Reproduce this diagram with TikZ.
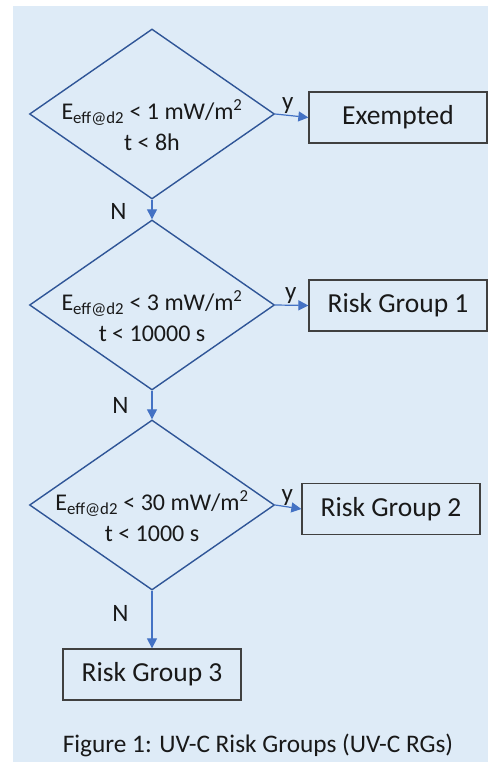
\documentclass[tikz,border=0pt]{standalone}
\usepackage{fontspec}
\setmainfont{Carlito}
\usetikzlibrary{shapes.geometric,arrows.meta}
\definecolor{PaleBlue}{RGB}{222,235,247}
\definecolor{EdgeBlue}{RGB}{47,85,151}
\definecolor{ArrowBlue}{RGB}{68,114,196}
\definecolor{BoxGray}{RGB}{64,64,64}
\definecolor{InkBlack}{RGB}{25,25,25}
\tikzset{
  decision/.style={diamond, draw=EdgeBlue, line width=1.4pt, minimum width=245pt, minimum height=170pt,
    inner sep=0pt},
  condtxt/.style={font=\fontsize{24}{31}\selectfont, text=InkBlack, align=center, inner sep=0pt, yshift=-11pt},
  outcome/.style={draw=BoxGray, line width=1.3pt, fill=PaleBlue, minimum width=178pt, minimum height=51pt,
    inner sep=0pt, text=InkBlack, font=\fontsize{27.5}{30}\selectfont},
  flow/.style={-{Triangle[length=10pt,width=10pt]}, ArrowBlue, line width=1.2pt},
  ylab/.style={font=\fontsize{25}{28}\selectfont, text=InkBlack, inner sep=1pt},
}
\newcommand{\Eeff}{E\textsubscript{eff@d2}}

\begin{document}
\begin{tikzpicture}[x=1pt, y=-1pt]
  \useasboundingbox (0,0) rectangle (488,762);
  \fill[PaleBlue] (13,6) rectangle (488,762);
  \node[decision, label={[condtxt]center:{\Eeff{} < 1 mW/m\textsuperscript{2}\\ t < 8h}}] (d1) at (152,114) {};
  \node[decision, label={[condtxt]center:{\Eeff{} < 3 mW/m\textsuperscript{2}\\ t < 10000 s}}] (d2) at (152,305) {};
  \node[decision, label={[condtxt]center:{\Eeff{} < 30 mW/m\textsuperscript{2}\\ t < 1000 s}}] (d3) at (152,505) {};
  \node[outcome] (ex) at (398,117.5) {Exempted};
  \node[outcome] (rg1) at (398,305.5) {Risk Group 1};
  \node[outcome] (rg2) at (391,509) {Risk Group 2};
  \node[outcome] (rg3) at (152,674.5) {Risk Group 3};
  \draw[flow] (d1.east) -- node[ylab, above, pos=0.38] {y} (ex.west);
  \draw[flow] (d2.east) -- node[ylab, above, pos=0.47] {y} (rg1.west);
  \draw[flow] (d3.east) -- node[ylab, above, pos=0.46] {y} (rg2.west);
  \draw[flow] (d1.south) -- node[ylab, left=24pt, pos=0.62] {N} (d2.north);
  \draw[flow] (d2.south) -- node[ylab, left=22pt, pos=0.5] {N} (d3.north);
  \draw[flow] (d3.south) -- node[ylab, left=22pt, pos=0.39] {N} (rg3.north);
  \node[font=\fontsize{25.3}{28}\selectfont, text=InkBlack] (cap) at (258,745) {Figure 1: UV-C Risk Groups (UV-C RGs)};
\end{tikzpicture}
\end{document}
